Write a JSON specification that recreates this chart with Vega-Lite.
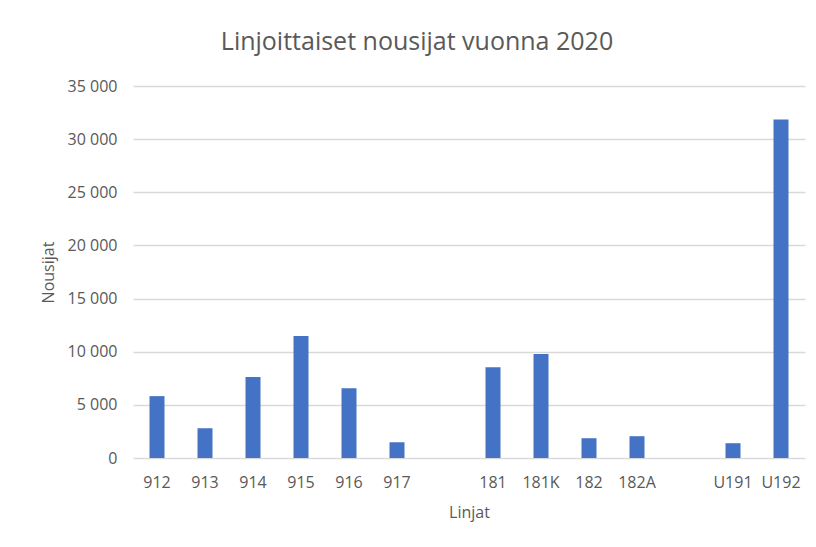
{
  "$schema": "https://vega.github.io/schema/vega-lite/v6.json",
  "width": 672,
  "height": 372,
  "autosize": {"type": "none"},
  "padding": {"left": 133, "top": 86, "right": 11, "bottom": 89},
  "background": "white",
  "title": {
    "text": "Linjoittaiset nousijat vuonna 2020",
    "font": "Open Sans",
    "fontSize": 25,
    "fontWeight": "normal",
    "color": "#595959",
    "anchor": "middle",
    "offset": 23,
    "dx": -52
  },
  "data": {
    "values": [
      {"linja": "912", "nousijat": 5820},
      {"linja": "913", "nousijat": 2800},
      {"linja": "914", "nousijat": 7610},
      {"linja": "915", "nousijat": 11480},
      {"linja": "916", "nousijat": 6570},
      {"linja": "917", "nousijat": 1480},
      {"linja": "181", "nousijat": 8550},
      {"linja": "181K", "nousijat": 9780},
      {"linja": "182", "nousijat": 1860},
      {"linja": "182A", "nousijat": 2050},
      {"linja": "U191", "nousijat": 1390},
      {"linja": "U192", "nousijat": 31840}
    ]
  },
  "mark": {"type": "bar", "color": "#4472C4"},
  "encoding": {
    "x": {
      "field": "linja",
      "type": "nominal",
      "sort": null,
      "scale": {
        "domain": ["912", "913", "914", "915", "916", "917", " ", "181", "181K", "182", "182A", "  ", "U191", "U192"],
        "paddingInner": 0.6875,
        "paddingOuter": 0.34375
      },
      "axis": {
        "title": "Linjat",
        "labelAngle": 0,
        "labelPadding": 16,
        "titlePadding": 14,
        "ticks": false,
        "domain": false,
        "grid": false
      }
    },
    "y": {
      "field": "nousijat",
      "type": "quantitative",
      "scale": {"domain": [0, 35000], "nice": false},
      "axis": {
        "title": "Nousijat",
        "values": [0, 5000, 10000, 15000, 20000, 25000, 30000, 35000],
        "labelExpr": "replace(format(datum.value, ','), ',', ' ')",
        "labelPadding": 16,
        "titlePadding": 11,
        "ticks": false,
        "domain": false,
        "grid": true,
        "gridColor": "#d9d9d9",
        "gridWidth": 1.3
      }
    }
  },
  "config": {
    "view": {"stroke": null},
    "axis": {
      "labelFont": "Open Sans",
      "labelFontSize": 16,
      "labelColor": "#595959",
      "titleFont": "Open Sans",
      "titleFontSize": 16,
      "titleFontWeight": "normal",
      "titleColor": "#595959"
    }
  }
}
